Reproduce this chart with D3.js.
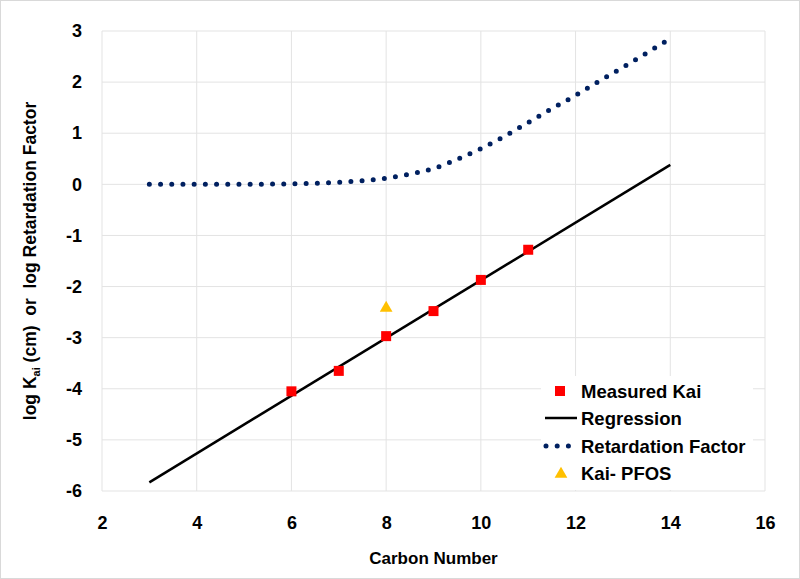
<!DOCTYPE html>
<html><head><meta charset="utf-8">
<script src="https://cdn.jsdelivr.net/npm/d3@7"></script>
<style>body{margin:0;background:#fff}svg{display:block}text{font-family:"Liberation Sans",Arial,sans-serif;font-weight:bold}</style>
</head><body><svg id="c" width="800" height="579"></svg>
<script>
const measuredX = [6, 7, 8, 9, 10, 11];
const measuredY = [-4.05, -3.65, -2.97, -2.48, -1.87, -1.28];
const pfosX = [8];
const pfosY = [-2.42];
const regressionX = [3, 14];
const regressionY = [-5.83, 0.38];
const retardX = [3,3.5,4,4.5,5,5.5,6,6.5,7,7.5,8,8.5,9,9.5,10,10.5,11,11.5,12,12.5,13,13.5,14];
const retardY = [0,0,0,0,0,0.005,0.01,0.02,0.04,0.07,0.12,0.2,0.31,0.49,0.7,0.94,1.21,1.48,1.74,2.02,2.29,2.57,2.85];
const xTicks = [2,4,6,8,10,12,14,16];
const yTicks = [3,2,1,0,-1,-2,-3,-4,-5,-6];
const legendLabels = ["Measured Kai","Regression","Retardation Factor","Kai- PFOS"];

const svg = d3.select("#c");
svg.append("rect").attr("x",0.5).attr("y",0.5).attr("width",799).attr("height",578).attr("fill","#fff").attr("stroke","#d9d9d9");
const x = d3.scaleLinear().domain([2,16]).range([102,765]);
const y = d3.scaleLinear().domain([-6,3]).range([491,31]);

const grid = svg.append("g");
grid.selectAll(".gx").data(xTicks).join("line").attr("x1",d=>x(d)).attr("x2",d=>x(d)).attr("y1",y(3)).attr("y2",y(-6)).attr("stroke","#e3e3e3").attr("stroke-width",1);
grid.selectAll(".gy").data(yTicks).join("line").attr("y1",d=>y(d)).attr("y2",d=>y(d)).attr("x1",x(2)).attr("x2",x(16)).attr("stroke","#e3e3e3").attr("stroke-width",1);

const fmt = d => String(d);
const xAxis = svg.append("g").attr("transform",`translate(0,${y(-6)})`).call(d3.axisBottom(x).tickValues(xTicks).tickSize(0).tickPadding(25).tickFormat(fmt));
xAxis.select(".domain").remove();
xAxis.selectAll("text").attr("font-size",18).attr("fill","#000").attr("font-family","Liberation Sans, Arial").attr("font-weight","bold");
const yAxis = svg.append("g").attr("transform",`translate(${x(2)},0)`).call(d3.axisLeft(y).tickValues(yTicks).tickSize(0).tickPadding(20).tickFormat(fmt));
yAxis.select(".domain").remove();
yAxis.selectAll("text").attr("font-size",18).attr("fill","#000").attr("font-family","Liberation Sans, Arial").attr("font-weight","bold");

svg.append("text").attr("x",(x(2)+x(16))/2).attr("y",564).attr("text-anchor","middle").attr("font-size",17).text("Carbon Number");
const yt = svg.append("text").attr("transform",`translate(36,${(y(3)+y(-6))/2}) rotate(-90)`).attr("text-anchor","middle").attr("font-size",17.5);
yt.append("tspan").text("log K");
yt.append("tspan").attr("font-size",11).attr("dy",4).text("ai");
yt.append("tspan").attr("dy",-4).text(" (cm)\u00a0 or\u00a0 log Retardation Factor");

// retardation dotted curve
const rData = retardX.map((v,i)=>[v,retardY[i]]);
svg.append("path").attr("d",d3.line().x(d=>x(d[0])).y(d=>y(d[1])).curve(d3.curveMonotoneX)(rData))
  .attr("fill","none").attr("stroke","#002060").attr("stroke-width",5).attr("stroke-linecap","round").attr("stroke-dasharray","0,11.2");
// regression
const regData = regressionX.map((v,i)=>[v,regressionY[i]]);
svg.append("path").attr("d",d3.line().x(d=>x(d[0])).y(d=>y(d[1]))(regData)).attr("fill","none").attr("stroke","#000").attr("stroke-width",2.5);
// measured
svg.selectAll(".m").data(measuredX.map((v,i)=>[v,measuredY[i]])).join("rect")
  .attr("x",d=>x(d[0])-5).attr("y",d=>y(d[1])-5).attr("width",10).attr("height",10).attr("fill","#ff0000");
// PFOS
const tri = d3.symbol().type(d3.symbolTriangle).size(70);
svg.selectAll(".p").data(pfosX.map((v,i)=>[v,pfosY[i]])).join("path")
  .attr("d",tri).attr("transform",d=>`translate(${x(d[0])},${y(d[1])})`).attr("fill","#ffc000");

// legend
const lg = svg.append("g");
lg.append("rect").attr("x",541).attr("y",376).attr("width",212).attr("height",114).attr("fill","#fff");
const ly = [391,418,446,473];
lg.selectAll("text").data(legendLabels).join("text").attr("x",581).attr("y",(d,i)=>ly[i]+6.5).attr("font-size",18.5).text(d=>d);
lg.append("rect").attr("x",555).attr("y",ly[0]-5).attr("width",10).attr("height",10).attr("fill","#ff0000");
lg.append("line").attr("x1",545).attr("x2",577).attr("y1",ly[1]).attr("y2",ly[1]).attr("stroke","#000").attr("stroke-width",2.5);
lg.append("line").attr("x1",546).attr("x2",577).attr("y1",ly[2]).attr("y2",ly[2]).attr("stroke","#002060").attr("stroke-width",5).attr("stroke-linecap","round").attr("stroke-dasharray","0,11.2");
lg.append("path").attr("d",tri).attr("transform",`translate(561,${ly[3]+1})`).attr("fill","#ffc000");
</script></body></html>
